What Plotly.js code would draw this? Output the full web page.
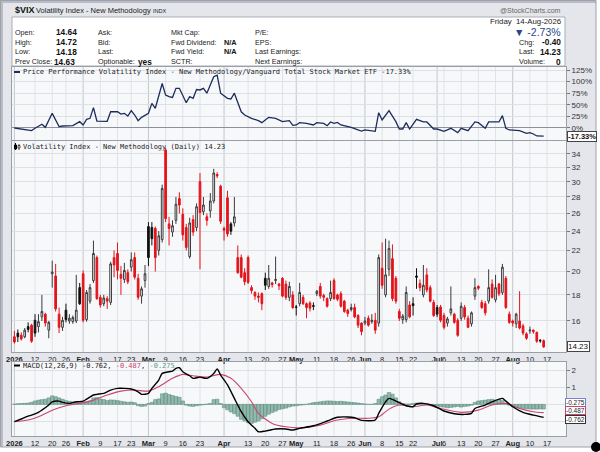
<!DOCTYPE html>
<html><head><meta charset="utf-8">
<script src="https://cdn.plot.ly/plotly-3.0.1.min.js"></script>
<style>html,body{margin:0;padding:0;background:#fff;}#chart{width:600px;height:452px;}</style>
</head><body><div id="chart"></div>
<script>
// ---- Daily OHLC of $VIX (trading-day index 0 = 2 Jan 2026) ----
const openP = [
14.9,15.15,15.0,14.9,15.6,15.7,16.05,15.6,16.3,16.5,
15.35,19.8,19.6,16.5,15.55,16.8,16.0,15.95,16.0,18.6,
19.8,16.1,17.5,19.2,21.3,17.8,17.3,17.7,17.4,21.3,
21.7,19.75,19.3,19.9,20.4,21.3,19.4,17.9,19.2,24.5,
24.4,24.3,22.0,23.1,34.6,24.8,23.9,25.2,27.8,25.9,
24.4,21.4,25.3,24.4,30.0,26.2,25.6,26.3,27.5,31.0,
29.4,24.3,27.9,24.8,24.9,21.3,21.3,19.9,21.3,18.6,
18.2,17.9,18.1,19.4,18.7,19.0,19.2,18.9,19.4,18.9,
17.8,18.0,17.05,17.3,17.8,17.3,17.35,17.15,18.1,18.7,
17.95,17.7,17.7,19.2,18.0,18.1,17.5,16.8,16.85,17.0,
16.4,15.85,15.85,16.2,15.95,16.05,15.85,20.3,18.0,20.2,
21.2,19.4,16.7,16.1,16.1,17.2,17.3,19.6,18.95,18.0,
19.7,18.6,17.4,17.0,17.05,16.4,15.85,16.6,16.5,16.05,
16.2,17.0,16.2,15.8,17.9,18.7,17.4,17.3,17.5,18.9,
17.6,18.9,18.2,19.4,16.5,16.0,15.8,16.0,15.65,15.1,
15.3,15.35,15.2,14.66,14.64];
const highP = [
15.3,15.4,15.2,15.5,15.9,15.8,16.5,16.5,18.0,16.6,
16.0,21.0,20.7,17.0,16.3,17.3,16.5,16.4,19.7,19.0,
20.1,18.4,18.9,23.0,21.5,18.0,18.0,17.9,20.9,22.0,
22.8,20.5,20.8,20.2,21.8,21.8,19.8,18.7,20.6,25.0,
25.0,24.5,24.0,29.6,35.0,25.6,25.2,28.0,28.6,26.6,
24.8,25.5,25.8,27.2,31.2,28.0,26.0,28.5,31.8,31.3,
29.6,24.5,28.8,25.0,28.0,22.5,21.6,20.3,21.5,18.8,
18.3,18.2,18.2,19.9,20.6,19.1,21.4,19.0,19.5,19.2,
19.1,18.3,17.2,19.0,18.0,17.4,17.5,17.4,18.4,19.0,
18.1,17.8,19.2,19.4,18.1,18.3,17.6,16.9,17.3,17.3,
16.5,15.9,16.3,16.4,16.5,16.6,21.6,22.8,23.2,23.0,
22.6,19.6,16.9,16.5,18.7,17.5,17.8,20.3,19.3,20.6,
20.3,18.8,17.6,17.2,17.2,16.6,16.3,18.7,16.6,16.2,
17.4,17.2,16.4,16.7,19.4,18.8,17.6,17.5,20.2,19.3,
19.7,19.0,20.7,19.6,16.7,16.1,16.6,18.3,15.8,15.2,
15.6,15.4,15.25,14.75,14.72];
const lowP = [
14.45,14.55,14.65,14.8,15.2,14.5,14.9,15.2,16.0,15.6,
14.8,18.6,16.7,15.15,15.3,15.9,15.8,15.8,15.85,17.2,
15.9,15.95,17.3,19.0,17.6,17.0,17.1,16.9,17.2,19.5,
19.3,18.0,19.0,18.9,20.0,19.3,17.6,17.3,18.6,20.5,
22.5,20.0,21.5,22.8,25.0,22.5,23.4,24.8,26.0,23.0,
22.0,21.2,23.5,24.0,20.2,25.8,24.6,25.5,27.2,30.5,
24.8,23.0,23.4,23.6,24.5,19.8,19.4,18.8,18.9,18.1,
17.6,17.4,16.8,18.4,18.5,18.6,18.9,18.4,17.8,17.6,
17.5,16.9,16.4,17.1,17.2,16.2,16.7,16.8,17.9,17.7,
17.5,17.0,17.5,17.6,17.5,17.0,16.6,16.3,16.7,16.2,
15.5,15.0,15.7,15.6,15.8,15.1,15.6,18.5,17.8,19.6,
17.5,17.3,16.0,15.8,15.9,16.2,16.4,18.5,18.3,17.8,
18.2,17.4,16.3,16.3,15.9,15.4,15.6,16.4,15.8,14.9,
16.0,16.1,15.5,15.6,17.6,18.4,16.9,16.4,17.3,17.7,
17.4,17.9,18.0,16.9,15.8,15.6,15.5,15.4,15.0,14.7,
15.1,15.1,14.5,14.5,14.18];
const closeP = [
14.55,14.9,14.75,15.35,15.4,14.6,15.15,15.95,16.7,15.85,
15.9,19.95,16.9,15.55,16.05,16.1,16.2,16.25,16.8,17.3,
16.05,18.2,18.6,21.7,17.7,17.2,17.75,17.5,20.7,20.6,
20.1,19.4,20.1,19.1,21.1,19.5,17.8,18.5,19.8,21.3,
23.2,21.3,23.5,29.1,25.4,24.3,24.6,27.1,27.0,23.6,
22.3,24.9,23.9,26.8,26.1,27.0,25.2,27.5,31.2,30.8,
25.1,24.1,23.7,24.0,25.6,19.9,19.5,19.1,19.05,18.35,
17.9,17.8,17.3,18.8,19.4,18.85,19.3,18.75,17.9,17.8,
18.7,17.0,17.02,18.2,17.3,17.0,16.95,17.1,18.3,17.9,
17.8,17.1,18.2,17.7,17.65,17.1,16.7,16.55,17.0,16.3,
15.7,15.25,16.0,15.7,16.05,15.35,21.3,18.8,19.7,22.2,
17.7,17.5,16.2,16.35,18.2,16.3,17.15,19.5,18.6,18.8,
18.4,17.5,16.4,16.5,16.05,15.55,16.15,16.9,15.9,15.0,
17.1,16.3,15.55,16.6,18.6,18.55,17.0,16.6,18.6,17.8,
18.6,18.1,20.4,17.0,15.9,15.85,16.5,15.5,15.15,14.8,
15.35,15.25,14.6,14.63,14.23];

// ---- Price performance vs VTI (%) ----
const perfIdx = [0,2,5,6,8,9,11,13,14,17,19,20,21,22,23,24,26,27,28,30,31,32,33,34,35,36,37,39,40,41,43,44,45,46,47,48,50,51,52,53,54,55,56,58,59,60,62,63,64,66,67,69,71,72,73,74,76,78,80,81,82,83,85,87,88,90,91,92,93,94,95,97,98,100,101,102,104,105,106,107,109,111,112,113,114,115,117,119,120,122,123,125,127,128,129,130,132,134,135,137,138,140,141,142,143,144,146,147,149,150,151,152,154];
const perfVal = [0,-2,-5.7,-0.7,8,1.4,31.6,2.9,4.3,5,13.6,6.5,18.7,20.8,43.8,15,13.6,14.4,35,35,30,31.6,25.9,37.3,28,15.8,23,31.6,53,42.5,96,71,67.5,66,85.5,85.5,54.6,67.5,64,83,82,85.5,75,110.6,114,75,64,62.5,75,35,28,20.8,15.8,11.5,17.2,23,20.8,13.6,15.8,5.7,6.5,11.5,10,6.5,11.5,10,5,13,10,12,6.5,2.9,1.4,-4.3,-6.5,-4.3,-5.7,-7.2,33,17.2,37.3,13.6,-2.2,-2.2,11.5,-2.2,18.7,13,13,-2.2,-2.2,-7.2,-0.7,-5.7,-10,-0.7,-5.7,13,11.5,-0.7,13,13,13,26.6,-0.7,-4.3,-5.7,-5.7,-11.5,-10,-13,-17.2,-17.33];

// ---- MACD(12,26,9) ----
const macdIdx = [0,2,4,5,7,8,10,11,13,14,16,18,20,21,23,24,26,28,30,32,34,36,37,39,40,42,43,45,46,47,48,49,51,52,54,56,58,59,60,62,64,66,68,70,71,73,76,79,81,83,87,91,94,97,99,101,105,106,108,109,111,114,116,117,119,122,125,128,131,133,134,137,139,142,143,145,148,151,154];
const macdVal = [-1.02,-0.86,-0.69,-0.63,-0.47,-0.34,-0.04,0.15,0.19,0.12,0.06,0.15,0.19,0.31,0.55,0.59,0.65,0.84,0.94,0.94,0.9,0.74,0.59,0.65,0.94,1.43,1.82,1.92,1.96,2.12,2.15,1.92,1.68,1.53,1.6,1.53,1.82,2.08,1.72,1.14,0.35,-0.43,-1.02,-1.41,-1.61,-1.57,-1.45,-1.45,-1.51,-1.41,-1.26,-0.98,-0.76,-0.74,-0.79,-0.94,-0.92,-0.53,0.15,0.35,0.19,-0.08,-0.14,0.02,0.06,-0.08,-0.39,-0.55,-0.59,-0.53,-0.24,-0.04,0.15,0.35,0.19,-0.14,-0.47,-0.63,-0.762];
const sigIdx = [0,4,7,11,15,19,23,27,31,35,39,42,46,49,52,56,60,63,66,69,71,75,79,83,89,94,99,103,106,109,112,116,120,124,130,135,139,143,147,151,154];
const sigVal = [-1.02,-0.92,-0.73,-0.34,-0.08,0.06,0.25,0.55,0.78,0.84,0.78,1.04,1.53,1.76,1.68,1.6,1.76,1.53,0.94,0.15,-0.53,-1.12,-1.32,-1.38,-1.22,-0.92,-0.82,-0.82,-0.73,-0.28,-0.04,-0.14,-0.04,-0.24,-0.47,-0.34,-0.04,0.06,-0.24,-0.43,-0.487];
const histVal = [
0.02,0.04,0.05,0.06,0.08,0.12,0.2,0.25,0.28,0.3,
0.38,0.5,0.45,0.38,0.3,0.22,0.18,0.15,0.12,0.12,
0.1,0.14,0.2,0.38,0.4,0.32,0.28,0.22,0.26,0.25,
0.22,0.18,0.15,0.12,0.14,0.1,-0.08,-0.12,-0.1,0.05,
0.12,0.28,0.32,0.62,0.66,0.58,0.52,0.46,0.42,0.2,
-0.05,-0.1,-0.12,-0.08,-0.05,-0.02,0.02,0.05,0.28,0.3,
0.05,-0.2,-0.32,-0.45,-0.55,-0.7,-0.88,-0.98,-1.08,-1.12,
-1.05,-0.98,-0.85,-0.7,-0.58,-0.48,-0.4,-0.3,-0.26,-0.22,
-0.15,-0.1,-0.08,-0.05,-0.03,0.0,0.05,0.1,0.12,0.15,
0.18,0.2,0.2,0.18,0.17,0.18,0.16,0.14,0.12,0.1,
0.08,0.05,0.02,0.0,0.0,0.05,0.3,0.45,0.55,0.7,
0.6,0.38,0.15,0.05,0.02,0.02,0.05,0.08,0.06,0.03,
0.02,-0.02,-0.06,-0.1,-0.14,-0.16,-0.2,-0.18,-0.15,-0.12,
-0.16,-0.12,-0.1,-0.05,0.12,0.2,0.22,0.25,0.28,0.3,
0.26,0.28,0.22,0.05,-0.05,-0.14,-0.2,-0.22,-0.24,-0.26,
-0.27,-0.28,-0.28,-0.27,-0.275];

// ---- Date axis ticks (trading-day index) ----
const tickIdx  = [0,6,11,15,20,25,30,34,39,44,49,54,61,68,73,78,82,88,93,98,102,107,112,116,123,125,130,135,140,145,150,155];
const tickText = ['2026','12','20','26','Feb','9','17','23','Mar','9','16','23','Apr','13','20','27','May','11','18','26','Jun','8','15','22','Jul','6','13','20','27','Aug','10','17'];
const monthIdx = [0,20,39,61,82,102,123,145];
const priceTicks = [16,18,20,22,24,26,28,30,32,34];
const perfTicks = [0,25,50,75,100,125];
const macdTicks = [-1,0,1,2];

// ---------------------------------------------------------------
const W = 600, H = 452;
const px = X => X / W, py = Y => 1 - Y / H;
const FONT = 'Liberation Sans, Arial, sans-serif';
const MONO = 'DejaVu Sans Mono, monospace';
const RED = '#e3141b', BLK = '#111111', HOLLOW = '#3a3a3a';

const dayIdx = closeP.map((_, i) => i);
const isRed = closeP.map((c, i) => c < (i > 0 ? closeP[i - 1] : openP[i]));
const pick = (arr, red) => arr.filter((_, i) => isRed[i] === red);

function candle(red) {
  return {
    type: 'candlestick', xaxis: 'x', yaxis: 'y',
    x: pick(dayIdx, red), open: pick(openP, red), high: pick(highP, red),
    low: pick(lowP, red), close: pick(closeP, red),
    increasing: {line: {color: red ? RED : HOLLOW, width: 1}, fillcolor: '#ffffff'},
    decreasing: {line: {color: red ? RED : BLK, width: 1}, fillcolor: red ? RED : BLK},
    whiskerwidth: 0, showlegend: false, hoverinfo: 'skip'
  };
}

const traces = [
  candle(false), candle(true),
  {type: 'scatter', mode: 'lines', x: perfIdx, y: perfVal, xaxis: 'x2', yaxis: 'y2',
   line: {color: '#1c2d5c', width: 1.3}, showlegend: false, hoverinfo: 'skip'},
  {type: 'bar', x: dayIdx, y: histVal, xaxis: 'x3', yaxis: 'y3', width: 1,
   marker: {color: 'rgba(110,160,142,0.72)', line: {color: '#55897a', width: 0.5}},
   showlegend: false, hoverinfo: 'skip'},
  {type: 'scatter', mode: 'lines', x: sigIdx, y: sigVal, xaxis: 'x3', yaxis: 'y3',
   line: {color: '#c9466d', width: 1.1, shape: 'spline', smoothing: 0.7}, showlegend: false, hoverinfo: 'skip'},
  {type: 'scatter', mode: 'lines', x: macdIdx, y: macdVal, xaxis: 'x3', yaxis: 'y3',
   line: {color: '#000000', width: 1.4, shape: 'spline', smoothing: 0.7}, showlegend: false, hoverinfo: 'skip'}
];

const monthSet = new Set(monthIdx);
const tickLabels = tickText.map((t, i) => monthSet.has(tickIdx[i]) ? '<b>' + t + '</b>' : t);
const xBase = {
  domain: [px(12), px(566)], range: [-0.7, 160.5], showgrid: false, zeroline: false,
  showline: true, mirror: true, linecolor: '#9a9ea6', linewidth: 1, fixedrange: true,
  tickmode: 'array', tickvals: tickIdx, ticktext: tickLabels, tickangle: 0, ticks: '',
  tickfont: {family: FONT, size: 7.5, color: '#222'}
};
const yBase = {
  side: 'right', showline: true, mirror: true, linecolor: '#9a9ea6', linewidth: 1,
  gridcolor: '#dde0e6', gridwidth: 1, zeroline: false, fixedrange: true,
  ticks: 'outside', ticklen: 3, tickcolor: '#777', tickmode: 'array',
  tickfont: {family: FONT, size: 8, color: '#333'}
};

// vertical grid lines (weekly + darker month lines) in each panel
const shapes = [];
[['x', 'y'], ['x2', 'y2'], ['x3', 'y3']].forEach(([xa, ya]) => {
  tickIdx.forEach(t => {
    shapes.push({type: 'line', xref: xa, yref: ya + ' domain', x0: t, x1: t, y0: 0, y1: 1,
      line: {color: monthSet.has(t) ? '#c2c6ce' : '#dfe2e8', width: 1}, layer: 'below'});
  });
});
// frame pieces (outside plot areas)
shapes.push({type: 'rect', xref: 'paper', yref: 'paper', x0: px(596), x1: 1, y0: 0, y1: 1, fillcolor: '#ffffff', line: {width: 0}, layer: 'below'});
shapes.push({type: 'rect', xref: 'paper', yref: 'paper', x0: 0, x1: 1, y0: 0, y1: py(447), fillcolor: '#ffffff', line: {width: 0}, layer: 'below'});
shapes.push({type: 'rect', xref: 'paper', yref: 'paper', x0: 0, x1: px(3), y0: py(447), y1: 1, fillcolor: '#b9bcc4', line: {width: 0}, layer: 'below'});
shapes.push({type: 'rect', xref: 'paper', yref: 'paper', x0: 0, x1: px(596), y0: py(3), y1: 1, fillcolor: '#b9bcc4', line: {width: 0}, layer: 'below'});
shapes.push({type: 'rect', xref: 'paper', yref: 'paper', x0: px(0.5), x1: px(596), y0: py(447), y1: py(0.5), line: {color: '#9da1a9', width: 1}, layer: 'below'});
shapes.push({type: 'rect', xref: 'paper', yref: 'paper', x0: px(12), x1: px(565), y0: py(66), y1: py(17), fillcolor: '#ffffff', line: {color: '#a9adb5', width: 1}, layer: 'below'});
shapes.push({type: 'circle', xref: 'paper', yref: 'paper', x0: px(591), x1: px(601), y0: py(452), y1: py(442), fillcolor: '#000', line: {width: 0}});
// legend glyphs
shapes.push({type: 'line', xref: 'paper', yref: 'paper', x0: px(14), x1: px(20), y0: py(72), y1: py(72), line: {color: '#1c2d5c', width: 2}});
shapes.push({type: 'line', xref: 'paper', yref: 'paper', x0: px(14), x1: px(20), y0: py(365.5), y1: py(365.5), line: {color: '#000', width: 2}});
shapes.push({type: 'line', xref: 'paper', yref: 'paper', x0: px(15.5), x1: px(15.5), y0: py(150), y1: py(143), line: {color: '#000', width: 1}});
shapes.push({type: 'rect', xref: 'paper', yref: 'paper', x0: px(14.5), x1: px(16.5), y0: py(149), y1: py(145), fillcolor: '#000', line: {color: '#000', width: 1}});
shapes.push({type: 'line', xref: 'paper', yref: 'paper', x0: px(19), x1: px(19), y0: py(150), y1: py(144), line: {color: '#444', width: 1}});
shapes.push({type: 'rect', xref: 'paper', yref: 'paper', x0: px(18), x1: px(20), y0: py(148), y1: py(145.5), fillcolor: '#fff', line: {color: '#444', width: 1}});

// annotations
const A = [];
function t(text, X, Y, size, opts) {
  A.push(Object.assign({xref: 'paper', yref: 'paper', x: px(X), y: py(Y), text: text, showarrow: false,
    xanchor: 'left', yanchor: 'middle', font: {family: FONT, size: size || 7, color: '#222'}}, opts || {}));
}
const BOLD = s => ({family: FONT, size: s, color: '#111'});
t('<b>$VIX</b>', 13, 10, 9, {font: BOLD(9)});
t('Volatility Index - New Methodology', 34, 10.5, 7.5);
t('INDX', 151, 10.8, 5.5);
t('@StockCharts.com', 563, 10, 7, {xanchor: 'right', font: {family: FONT, size: 7, color: '#666'}});
const rowsY = [32, 42, 52, 62];
['Open:', 'High:', 'Low:', 'Prev Close:'].forEach((s, i) => t(s, 13, rowsY[i], 7.2));
const hdrVals = [openP[154], highP[154], lowP[154], closeP[153]];
hdrVals.forEach((v, i) => t('<b>' + v.toFixed(2) + '</b>', i < 3 ? 54 : 52, rowsY[i], 8.3, {font: BOLD(8.3)}));
['Ask:', 'Bid:', 'Last:', 'Optionable:'].forEach((s, i) => t(s, 96, rowsY[i], 7.2));
t('<b>yes</b>', 136, 62, 8.3, {font: BOLD(8.3)});
['Mkt Cap:', 'Fwd Dividend:', 'Fwd Yield:', 'SCTR:'].forEach((s, i) => t(s, 169, rowsY[i], 7.2));
t('<b>N/A</b>', 222, 42, 7.3, {font: BOLD(7.3)}); t('<b>N/A</b>', 222, 52, 7.3, {font: BOLD(7.3)});
['P/E:', 'EPS:', 'Last Earnings:', 'Next Earnings:'].forEach((s, i) => t(s, 253, rowsY[i], 7.2));
t('Friday  14-Aug-2026', 563, 21, 7.8, {xanchor: 'right'});
const chg = closeP[154] - closeP[153];
const pct = chg / closeP[153] * 100;
t('▼ ' + pct.toFixed(2) + '%', 563, 32, 10.5, {xanchor: 'right', font: {family: FONT, size: 10.5, color: '#27488a'}});
t('Chg:', 517, 42, 7.2); t('<b>' + chg.toFixed(2) + '</b>', 563, 42, 8.3, {xanchor: 'right', font: BOLD(8.3)});
t('Last:', 517, 52, 7.2); t('<b>' + closeP[154].toFixed(2) + '</b>', 563, 52, 8.3, {xanchor: 'right', font: BOLD(8.3)});
t('Volume:', 517, 62, 7.2); t('<b>0</b>', 563, 62, 8.3, {xanchor: 'right', font: BOLD(8.3)});

const lastPerf = perfVal[perfVal.length - 1];
t('Price Performance Volatility Index - New Methodology/Vanguard Total Stock Market ETF ' + lastPerf.toFixed(2) + '%', 21, 72, 7, {font: {family: MONO, size: 7, color: '#222'}});
t('Volatility Index - New Methodology (Daily) ' + closeP[154].toFixed(2), 21, 147, 7, {font: {family: MONO, size: 7, color: '#222'}});
const mL = macdVal[macdVal.length - 1], sL = sigVal[sigVal.length - 1], hL = histVal[histVal.length - 1];
t('MACD(12,26,9) ' + mL.toFixed(3) + ', <span style="color:#c9466d">' + sL.toFixed(3) + '</span>, <span style="color:#5a9c87">' + hL.toFixed(3) + '</span>', 21, 365.5, 7, {font: {family: MONO, size: 7, color: '#222'}});

// current value boxes on the right
A.push({xref: 'paper', yref: 'y2', x: px(567), y: lastPerf, xanchor: 'left', yanchor: 'middle', showarrow: false,
  text: '<b>' + lastPerf.toFixed(2) + '%</b>', bgcolor: '#fff', bordercolor: '#444', borderwidth: 1, borderpad: 0,
  font: {family: FONT, size: 7.5, color: '#111'}});
A.push({xref: 'paper', yref: 'y', x: px(567), y: Math.log10(closeP[154]), xanchor: 'left', yanchor: 'middle', showarrow: false,
  text: closeP[154].toFixed(2), bgcolor: '#fff', bordercolor: '#444', borderwidth: 1, borderpad: 0,
  font: {family: FONT, size: 8, color: '#111'}});
[[hL, 402, '#7b80cc'], [sL, 410.5, '#c9466d'], [mL, 419, '#333']].forEach(([v, Y, c]) => {
  A.push({xref: 'paper', yref: 'paper', x: px(565), y: py(Y), xanchor: 'left', yanchor: 'middle', showarrow: false,
    text: v.toFixed(3), bgcolor: '#fff', bordercolor: c, borderwidth: 1, borderpad: 0,
    font: {family: FONT, size: 6.5, color: '#222'}});
});

const layout = {
  width: W, height: H, margin: {l: 0, r: 0, t: 0, b: 0}, autosize: false,
  paper_bgcolor: '#e4e6eb', plot_bgcolor: '#f7f8fa',
  font: {family: FONT, size: 8, color: '#222'},
  showlegend: false, hovermode: false, bargap: 0, dragmode: false,
  xaxis: Object.assign({}, xBase, {anchor: 'y', rangeslider: {visible: false}}),
  xaxis2: Object.assign({}, xBase, {anchor: 'y2', matches: 'x', showticklabels: false}),
  xaxis3: Object.assign({}, xBase, {anchor: 'y3', matches: 'x'}),
  yaxis: Object.assign({}, yBase, {domain: [py(352), py(141)], type: 'log', anchor: 'x',
    range: [Math.log10(13.91), Math.log10(36.05)], tickvals: priceTicks, ticktext: priceTicks.map(String)}),
  yaxis2: Object.assign({}, yBase, {domain: [py(140), py(67)], anchor: 'x2', range: [-25.9, 131.5],
    tickvals: perfTicks, ticktext: perfTicks.map(v => v + '%'), zeroline: true, zerolinecolor: '#8d9199', zerolinewidth: 1}),
  yaxis3: Object.assign({}, yBase, {domain: [py(436), py(362)], anchor: 'x3', range: [-1.86, 2.49],
    tickvals: macdTicks, ticktext: macdTicks.map(String)}),
  shapes: shapes, annotations: A
};

Plotly.newPlot('chart', traces, layout, {staticPlot: true, displayModeBar: false});
</script>
</body></html>
